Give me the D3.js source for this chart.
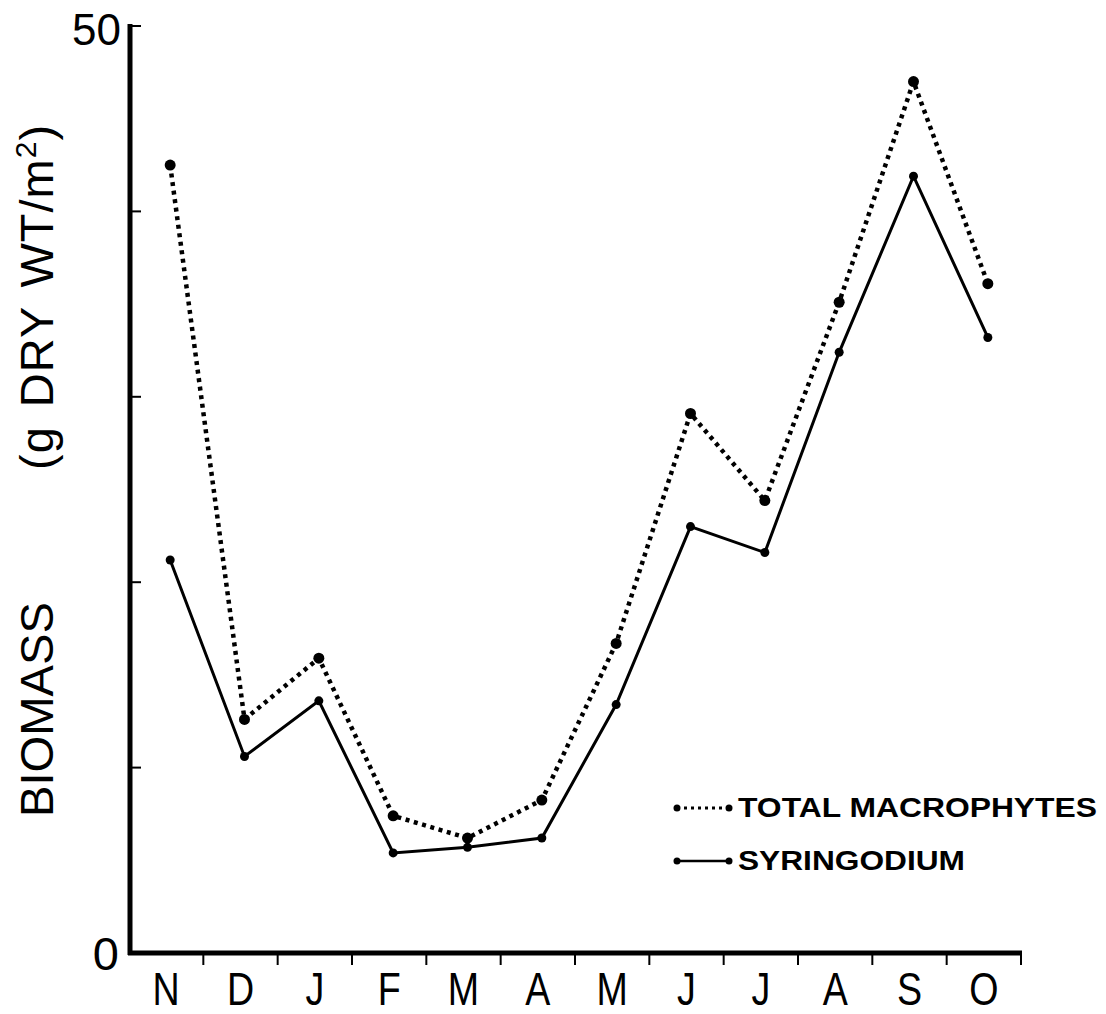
<!DOCTYPE html>
<html>
<head>
<meta charset="utf-8">
<script src="https://cdn.jsdelivr.net/npm/d3@7"></script>
<style>
  html, body { margin: 0; padding: 0; background: #fff; }
  svg { display: block; }
  text { fill: #000; }
</style>
</head>
<body>
<svg id="chart" width="1106" height="1014"></svg>
<script>
// Monthly biomass, November through October
const months = ["N", "D", "J", "F", "M", "A", "M", "J", "J", "A", "S", "O"];
const totalMacrophytes = [42.5, 12.6, 15.9, 7.4, 6.2, 8.25, 16.7, 29.1, 24.4, 35.1, 47.0, 36.1];
const syringodium = [21.2, 10.6, 13.6, 5.4, 5.7, 6.2, 13.4, 23.0, 21.6, 32.4, 41.9, 33.2];
const yTicks = [0, 10, 20, 30, 40, 50];
const yTickLabels = { 0: "0", 50: "50" };

const svg = d3.select("#chart");
const font = "'Liberation Sans', Arial, Helvetica, sans-serif";

const x = d3.scaleBand().domain(d3.range(months.length)).range([129, 1021]).paddingInner(0).paddingOuter(0);
const y = d3.scaleLinear().domain([0, 50]).range([953, 26]);
const bw = x.bandwidth();
const px = i => x(i) + bw / 2 + 4;

// Axis lines
svg.append("line").attr("x1", 130).attr("x2", 130).attr("y1", y(50) - 2).attr("y2", y(0) + 2)
  .attr("stroke", "#000").attr("stroke-width", 5);
svg.append("line").attr("x1", 128).attr("x2", 1022).attr("y1", y(0)).attr("y2", y(0))
  .attr("stroke", "#000").attr("stroke-width", 5);

// Y ticks, pointing into the plot
svg.selectAll(".ytick").data(yTicks.filter(d => d > 0)).join("line")
  .attr("x1", 130).attr("x2", 141)
  .attr("y1", d => y(d)).attr("y2", d => y(d))
  .attr("stroke", "#000").attr("stroke-width", 2);

// Y tick labels (only the ends are labelled)
svg.selectAll(".ylab").data(yTicks.filter(d => yTickLabels[d] !== undefined)).join("text")
  .attr("x", d => d === 0 ? 119 : 121)
  .attr("y", d => y(d) + (d === 0 ? 17 : 19))
  .attr("text-anchor", "end")
  .attr("font-family", font).attr("font-size", d => d === 0 ? 47 : 44)
  .text(d => yTickLabels[d]);

// X ticks at month boundaries, pointing down
svg.selectAll(".xtick").data(d3.range(1, months.length + 1)).join("line")
  .attr("x1", i => x.range()[0] + i * bw).attr("x2", i => x.range()[0] + i * bw)
  .attr("y1", y(0)).attr("y2", y(0) + 12)
  .attr("stroke", "#000").attr("stroke-width", 2);

// Month labels
svg.selectAll(".xlab").data(months).join("text")
  .attr("transform", (d, i) => `translate(${x(i) + bw / 2},1005) scale(0.8,1)`)
  .attr("text-anchor", "middle")
  .attr("font-family", font).attr("font-size", 47)
  .text(d => d);

// Y axis title, in two parts
svg.append("text")
  .attr("transform", "translate(53,817) rotate(-90)")
  .attr("font-family", font).attr("font-size", 47)
  .attr("textLength", 215).attr("lengthAdjust", "spacingAndGlyphs")
  .text("BIOMASS");

const unit = svg.append("text")
  .attr("transform", "translate(53,470) rotate(-90)")
  .attr("font-family", font).attr("font-size", 47)
  .attr("letter-spacing", 1).attr("word-spacing", 5);
unit.append("tspan").text("(g DRY WT/m");
unit.append("tspan").attr("dy", -17).attr("font-size", 30).text("2");
unit.append("tspan").attr("dy", 17).text(")");

// Series lines
const line = d3.line().x((d, i) => px(i)).y(d => y(d));

svg.append("path").datum(totalMacrophytes).attr("d", line)
  .attr("fill", "none").attr("stroke", "#000").attr("stroke-width", 4.5)
  .attr("stroke-dasharray", "4 4.6");

svg.append("path").datum(syringodium).attr("d", line)
  .attr("fill", "none").attr("stroke", "#000").attr("stroke-width", 3);

svg.selectAll(".ptTotal").data(totalMacrophytes).join("circle")
  .attr("cx", (d, i) => px(i)).attr("cy", d => y(d)).attr("r", 5.5).attr("fill", "#000");
svg.selectAll(".ptSyr").data(syringodium).join("circle")
  .attr("cx", (d, i) => px(i)).attr("cy", d => y(d)).attr("r", 4.5).attr("fill", "#000");

// Legend
const legend = [
  { label: "TOTAL MACROPHYTES", dash: "3 4", width: 3, ly: 808, len: 359 },
  { label: "SYRINGODIUM", dash: null, width: 2.5, ly: 861, len: 227 }
];
legend.forEach(l => {
  svg.append("line").attr("x1", 677).attr("x2", 729).attr("y1", l.ly).attr("y2", l.ly)
    .attr("stroke", "#000").attr("stroke-width", l.width)
    .attr("stroke-dasharray", l.dash);
  svg.append("circle").attr("cx", 677).attr("cy", l.ly).attr("r", 3.5).attr("fill", "#000");
  svg.append("circle").attr("cx", 729).attr("cy", l.ly).attr("r", 3.5).attr("fill", "#000");
  svg.append("text").attr("x", 738).attr("y", l.ly + 9)
    .attr("font-family", font).attr("font-weight", "bold").attr("font-size", 27)
    .attr("textLength", l.len).attr("lengthAdjust", "spacingAndGlyphs")
    .text(l.label);
});
</script>
</body>
</html>
